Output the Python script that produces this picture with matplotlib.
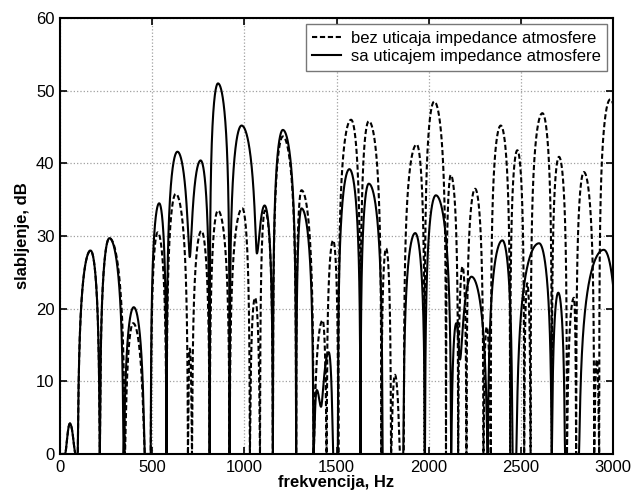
import numpy as np
import matplotlib
matplotlib.use("Agg")
import matplotlib.pyplot as plt

# Alternating extrema (min, max, min, ...): frequency (Hz), attenuation (dB)
sa_x = [27, 54, 85, 90, 96, 166, 216, 268, 345, 400, 460, 475, 492, 538, 578, 637, 704, 763,
        812, 857, 920, 985, 1068, 1110, 1155, 1209, 1281, 1310, 1375, 1393, 1416, 1458, 1482,
        1495, 1507, 1570, 1630, 1675, 1750, 1805, 1862, 1927, 1980, 2039, 2122, 2150, 2170,
        2232, 2320, 2400, 2455, 2465, 2475, 2599, 2668, 2703, 2740, 2780, 2815, 2950, 3032]
sa_y = [0, 4.2, 0, 0, 0, 28.0, 0, 29.7, 0, 20.2, 0, 0, 0, 34.5, 0, 41.6, 27.1, 40.4,
        0, 51.0, 0, 45.2, 27.6, 34.2, 0, 44.6, 0, 33.8, 0, 8.8, 6.5, 14.0, 0,
        0, 0, 39.2, 0, 37.2, 0, 0, 0, 30.4, 0, 35.6, 0, 18.0, 13.0,
        24.4, 0, 29.4, 0, 0, 0, 29.0, 0, 22.2, 0, 0, 0, 28.1, 0]

bez_x = [27, 54, 85, 90, 96, 166, 216, 268, 352, 397, 460, 475, 492, 530, 578, 628, 694, 704,
         716, 767, 812, 857, 920, 989, 1030, 1058, 1085, 1112, 1155, 1209, 1281, 1310, 1376,
         1425, 1446, 1482, 1510, 1579, 1630, 1675, 1743, 1769, 1796, 1817, 1845, 1855, 1865,
         1935, 1978, 2030, 2094, 2120, 2160, 2184, 2205, 2252, 2297, 2315, 2337, 2391, 2442,
         2481, 2518, 2535, 2553, 2617, 2668, 2707, 2750, 2788, 2800, 2842, 2898, 2912, 2925,
         2985, 3050]
bez_y = [0, 4.2, 0, 0, 0, 28.0, 0, 29.7, 0, 18.0, 0, 0, 0, 30.5, 0, 35.8, 0, 14.5,
         0, 30.7, 0, 33.5, 0, 33.8, 0, 21.5, 0, 33.5, 0, 43.7, 0, 36.3, 0,
         18.4, 0, 29.4, 0, 46.0, 0, 45.8, 0, 28.3, 0, 10.9, 0, 0, 0,
         42.6, 0, 48.5, 0, 38.4, 0, 25.8, 0, 36.5, 0, 17.5, 0, 45.2, 0,
         41.8, 0, 23.5, 0, 46.9, 0, 40.9, 0, 21.5, 0, 38.8, 0, 13.0, 0,
         48.8, 0]

labels = ["bez uticaja impedance atmosfere", "sa uticajem impedance atmosfere"]
xticks = [0, 500, 1000, 1500, 2000, 2500, 3000]
yticks = [0, 10, 20, 30, 40, 50, 60]


def half_lobe(xa, ya, xb, yb, n=160):
    """Curve between two consecutive extrema, shaped like a dB interference lobe."""
    if ya <= yb:
        xm, m, xp, p, rev = xa, ya, xb, yb, False
    else:
        xm, m, xp, p, rev = xb, yb, xa, ya, True
    t = np.linspace(0, 1, n)
    xs = xm + (xp - xm) * t
    if p - m < 1e-6:
        ys = np.full(n, m)
    else:
        r = 10 ** ((m - p) / 10.0)
        eps = r / (1 - r)
        s = np.sin(np.pi * t / 2)
        ys = p + 10 * np.log10((s ** 2 + eps) / (1 + eps))
    if rev:
        xs, ys = xs[::-1], ys[::-1]
    return xs, ys


def build(xe, ye):
    X = [np.array([0.0, xe[0]])]
    Y = [np.array([0.0, ye[0]])]
    for i in range(len(xe) - 1):
        xs, ys = half_lobe(xe[i], ye[i], xe[i + 1], ye[i + 1])
        X.append(xs)
        Y.append(ys)
    return np.concatenate(X), np.concatenate(Y)


plt.rcParams['font.family'] = ['Liberation Sans', 'DejaVu Sans']

fig = plt.figure(figsize=(6.37, 4.97), dpi=100)
ax = fig.add_axes([60 / 637, 1 - 454 / 497, (613 - 60) / 637, (454 - 18) / 497])

bx, by = build(bez_x, bez_y)
sx, sy = build(sa_x, sa_y)
ax.plot(bx, by, color='black', lw=1.5, dashes=(2.5, 1.3), label=labels[0])
ax.plot(sx, sy, color='black', lw=1.5, label=labels[1])

ax.set_xlim(0, 3000)
ax.set_ylim(0, 60)
ax.set_xticks(xticks)
ax.set_yticks(yticks)
ax.grid(True, color='#a0a0a0', linestyle=':', linewidth=0.9)
ax.tick_params(direction='in', length=5, width=1.2, top=True, right=True,
               labelsize=12, pad=4)
for sp in ax.spines.values():
    sp.set_linewidth(1.5)

ax.set_xlabel("frekvencija, Hz", fontsize=12, fontweight='bold', labelpad=0)
ax.set_ylabel("slabljenje, dB", fontsize=12, fontweight='bold', labelpad=4)

leg = ax.legend(loc='upper right', fontsize=12, handlelength=1.7, handletextpad=0.6,
                borderpad=0.4, labelspacing=0.2, borderaxespad=0.35, fancybox=False,
                framealpha=1, edgecolor='#777777')
leg.get_frame().set_linewidth(1.0)

fig.savefig("out.png", dpi=100)
